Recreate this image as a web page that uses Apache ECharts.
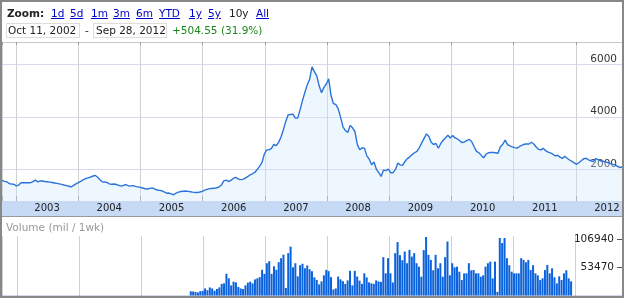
<!DOCTYPE html>
<html><head><meta charset="utf-8">
<script src="https://cdn.jsdelivr.net/npm/echarts@6/dist/echarts.min.js"></script>
<style>
html,body{margin:0;padding:0;background:#fff;}
#wrap{position:relative;width:624px;height:298px;overflow:hidden;font-family:"DejaVu Sans",Verdana,sans-serif;}
#chart{position:absolute;left:0;top:0;width:624px;height:298px;}
#frame{position:absolute;left:0;top:0;width:624px;height:298px;box-sizing:border-box;border:2px solid #888;pointer-events:none;}
.t{position:absolute;font-size:10.5px;line-height:12px;white-space:nowrap;color:#222;}
.lk{color:#0000cc;text-decoration:underline;}
.box{position:absolute;border:1px solid #ddd;box-sizing:border-box;height:15px;top:22.5px;}
</style></head>
<body><div id="wrap">
<div id="chart"></div>
<div class="t" style="left:7px;top:7px;font-weight:bold;">Zoom:</div>
<div class="t lk" style="left:51px;top:7px;">1d</div>
<div class="t lk" style="left:70px;top:7px;">5d</div>
<div class="t lk" style="left:91px;top:7px;">1m</div>
<div class="t lk" style="left:113px;top:7px;">3m</div>
<div class="t lk" style="left:136px;top:7px;">6m</div>
<div class="t lk" style="left:159px;top:7px;">YTD</div>
<div class="t lk" style="left:189px;top:7px;">1y</div>
<div class="t lk" style="left:208px;top:7px;">5y</div>
<div class="t" style="left:229px;top:7px;">10y</div>
<div class="t lk" style="left:256px;top:7px;">All</div>
<div class="box" style="left:6px;width:74px;"></div>
<div class="t" style="left:8px;top:24px;">Oct 11, 2002</div>
<div class="t" style="left:85px;top:24px;">-</div>
<div class="box" style="left:93px;width:74px;"></div>
<div class="t" style="left:96px;top:24px;">Sep 28, 2012</div>
<div class="t" style="left:172px;top:24px;color:#1a8a1a;">+504.55 (31.9%)</div>
<div class="t" style="left:6px;top:221px;color:#999;">Volume (mil / 1wk)</div>
<div id="frame"></div>
</div>
<script>
// biweekly samples starting Oct 11, 2002
const startDate = [2002, 9, 11];
const stepDays = 14;
const price = [
1582,1540,1525,1460,1436,1430,1370,1400,1490,1490,
1490,1490,1490,1530,1590,1520,1560,1555,1535,1525,
1510,1495,1480,1465,1445,1425,1400,1378,1355,1330,
1385,1445,1495,1540,1595,1645,1675,1698,1735,1771,
1705,1615,1525,1515,1500,1445,1432,1438,1420,1390,
1360,1390,1420,1364,1370,1375,1350,1330,1310,1288,
1258,1248,1275,1290,1250,1210,1197,1183,1135,1090,
1095,1065,1030,1095,1130,1155,1165,1172,1160,1145,
1130,1118,1115,1135,1160,1205,1235,1265,1270,1275,
1295,1325,1400,1560,1590,1535,1577,1650,1690,1635,
1605,1615,1662,1723,1783,1830,1880,1990,2110,2250,
2580,2740,2740,2800,2945,2905,3025,3230,3510,3825,
4075,4090,4100,3950,3950,4265,4615,4925,5215,5430,
5900,5720,5560,5180,4920,5120,5250,5450,4800,4500,
4470,4300,3980,3620,3475,3400,3670,3580,3440,2950,
2745,2815,2805,2510,2385,2175,2275,2000,1870,1730,
1970,1950,2011,1870,1870,1995,2240,2170,2150,2300,
2405,2475,2560,2630,2680,2820,3005,3180,3350,3250,
3030,2945,2985,2800,2985,3105,3205,3300,3195,3290,
3195,3155,3085,3018,3045,3100,3140,3050,2860,2685,
2630,2530,2440,2575,2630,2645,2640,2630,2612,2860,
2955,3110,2940,2890,2855,2825,2805,2870,2915,2955,
2964,2964,3030,2965,2850,2760,2740,2800,2710,2655,
2625,2575,2510,2535,2465,2415,2495,2420,2355,2300,
2245,2190,2260,2335,2405,2420,2362,2325,2290,2410,
2370,2325,2305,2285,2258,2228,2196,2168,2120,2070,
2086
];
const volumeStartIndex = 79;
const volume = [
8000,7700,6700,5700,8200,8600,13400,10100,15300,13400,
9000,12400,15300,22000,23000,41200,32600,19200,26200,24900,
16300,13400,12400,19200,24300,26200,23000,30600,32600,34900,
48800,41200,61300,65100,41200,55500,48800,63200,70900,77600,
14400,80400,92900,53600,61300,36400,57500,60300,51700,57100,
49800,46000,34500,29700,21100,26800,38300,48800,46300,34900,
11500,13400,36000,30600,27200,22000,28700,46900,19200,46900,
36000,28300,22000,42100,34500,24900,23000,22000,28700,26800,
25900,72800,42100,70900,42100,24900,80400,101500,76600,67000,
83500,61300,86700,73900,80400,61300,54800,35600,86200,111100,
77200,67600,47900,77200,51700,61300,35600,72800,102600,38300,
61300,53600,54800,45200,29300,42100,42100,61300,47900,48400,
42100,42100,35600,38300,54800,61300,64300,32600,64300,6900,
109200,99600,109200,70900,57500,45200,42100,42100,42100,70900,
67600,63200,67600,48400,57500,42100,38300,29300,32600,48400,
58000,42100,51700,34500,23000,36400,29300,42100,47900,32600,
26800
];
const priceTicks = [2000, 4000, 6000];
const volumeTicks = [53470, 106940];

const DAY = 86400000;
const t0 = Date.UTC(startDate[0], startDate[1], startDate[2]);
const times = price.map((_, i) => t0 + i * stepDays * DAY);
const t1 = times[times.length - 1];
const priceData = price.map((v, i) => [times[i], v]);
const volData = volume.map((v, i) => [times[i + volumeStartIndex], v]);
const HALF = 182.6 * DAY;
const YEAR = 365 * DAY;
const FONT = 'DejaVu Sans';
const plain = v => String(v);

const chart = echarts.init(document.getElementById('chart'), null, {renderer: 'canvas'});
chart.setOption({
  useUTC: true,
  animation: false,
  grid: [
    {left: 2, right: 2, top: 42, height: 159},
    {left: 2, right: 2, top: 201, height: 15, show: true, backgroundColor: '#c6daf5', borderWidth: 0},
    {left: 2, right: 2, top: 236, height: 59.5}
  ],
  xAxis: [
    {type: 'time', gridIndex: 0, min: t0, max: t1, position: 'bottom', minInterval: YEAR, maxInterval: 366 * DAY,
      axisLine: {show: false}, axisTick: {show: true, inside: true, length: 5, lineStyle: {color: '#999'}},
      axisLabel: {show: false}, splitLine: {show: true, lineStyle: {color: '#cfd3cf'}}},
    {type: 'time', gridIndex: 0, min: t0, max: t1, position: 'top', minInterval: YEAR, maxInterval: 366 * DAY,
      axisLine: {show: true, lineStyle: {color: '#c8c8c8'}}, axisTick: {show: true, inside: true, length: 3, lineStyle: {color: '#999'}},
      axisLabel: {show: false}, splitLine: {show: false}},
    {type: 'time', gridIndex: 1, min: t0 - HALF, max: t1 - HALF, position: 'top', minInterval: YEAR, maxInterval: 366 * DAY,
      axisLine: {show: false}, axisTick: {show: false},
      axisLabel: {inside: true, margin: 2, color: '#222', fontSize: 10, fontFamily: FONT,
        formatter: v => String(new Date(v).getUTCFullYear())},
      splitLine: {show: false}},
    {type: 'time', gridIndex: 1, min: t0, max: t1, position: 'bottom',
      axisLine: {show: true, lineStyle: {color: '#999'}}, axisTick: {show: false}, axisLabel: {show: false}, splitLine: {show: false}},
    {type: 'time', gridIndex: 2, min: t0, max: t1, position: 'top', minInterval: YEAR, maxInterval: 366 * DAY,
      axisLine: {show: true, lineStyle: {color: '#d8d8ef'}}, axisTick: {show: true, inside: true, length: 5, lineStyle: {color: '#888'}},
      axisLabel: {show: false}, splitLine: {show: true, lineStyle: {color: '#cfd3cf'}}}
  ],
  yAxis: [
    {type: 'value', gridIndex: 0, min: 792, max: 6850, position: 'right',
      axisLine: {show: false}, axisTick: {show: false, customValues: priceTicks},
      axisLabel: {inside: true, customValues: priceTicks, formatter: plain, verticalAlign: 'bottom', margin: 5, color: '#333', fontSize: 10.5, fontFamily: FONT},
      splitLine: {show: true, lineStyle: {color: '#d8d8ee'}}},
    {type: 'value', gridIndex: 1, min: 0, max: 1, show: false},
    {type: 'value', gridIndex: 2, min: 0, max: 113000, position: 'right',
      axisLine: {show: false}, axisTick: {show: true, inside: true, length: 5, customValues: volumeTicks, lineStyle: {color: '#555'}},
      axisLabel: {inside: true, customValues: volumeTicks, formatter: plain, margin: 8, color: '#222', fontSize: 10.5, fontFamily: FONT},
      splitLine: {show: false}}
  ],
  series: [
    {type: 'line', xAxisIndex: 0, yAxisIndex: 0, data: priceData, symbol: 'none', showSymbol: false,
      lineStyle: {color: '#2a74d9', width: 1.4}, areaStyle: {color: 'rgba(208,231,252,0.5)', origin: 'start'}},
    {type: 'bar', xAxisIndex: 4, yAxisIndex: 2, data: volData, barWidth: 2, itemStyle: {color: '#0a62dd'}}
  ]
});
</script>
</body></html>
